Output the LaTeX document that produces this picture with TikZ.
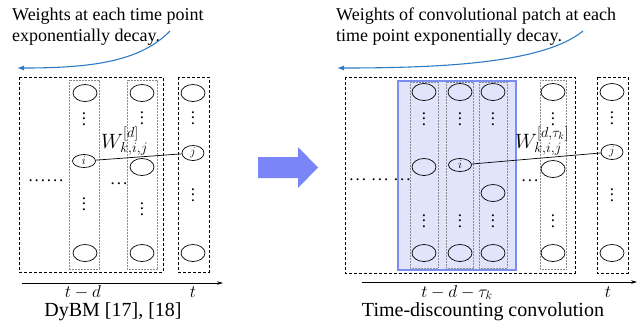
\documentclass[tikz,border=0pt]{standalone}
\usepackage{fontspec}
\setmainfont{Liberation Serif}
\usetikzlibrary{arrows.meta,shapes.geometric}
\definecolor{curveblue}{RGB}{46,125,196}
\definecolor{patchfill}{RGB}{225,228,251}
\definecolor{patchline}{RGB}{124,141,242}
\definecolor{bigarrow}{RGB}{122,133,247}
% vertical ellipsis with a wider dot pitch than \vdots
\newcommand\colvdots{\vbox{\baselineskip=5.5pt\lineskiplimit=0pt\hbox{.}\hbox{.}\hbox{.}}}
\newcommand\dk{\kern1.9pt}
\newcommand\gk{\kern5.7pt}
\begin{document}
\begin{tikzpicture}[x=1pt,y=-1pt,
  unit/.style={draw, ellipse, minimum width=24pt, minimum height=17pt, inner sep=0pt, line width=0.7pt},
  smallunit/.style={unit, minimum width=23pt, minimum height=13pt, font=\fontsize{12}{12}\selectfont},
  midunit/.style={unit, minimum width=22pt, minimum height=15pt, font=\fontsize{12}{12}\selectfont},
  layerbox/.style={draw, line width=0.6pt, dash pattern=on 3pt off 2pt},
  column/.style={draw=black!45, line width=0.5pt, dash pattern=on 0.6pt off 0.9pt},
  vd/.style={inner sep=0pt, font=\fontsize{17}{17}\selectfont},
  hd/.style={inner sep=0pt, anchor=base, font=\fontsize{17}{17}\selectfont},
  caption/.style={inner sep=0pt, anchor=base, font=\fontsize{20}{24}\selectfont},
  note/.style={inner sep=0pt, anchor=north west, align=left, font=\fontsize{18}{21}\selectfont},
  axislabel/.style={inner sep=0pt, anchor=base, font=\fontsize{17}{17}\selectfont},
  weight/.style={inner sep=0pt, anchor=base west, font=\fontsize{20}{20}\selectfont},
  timeaxis/.style={-{Stealth[length=6pt,width=3.5pt]}, line width=0.6pt},
  decay/.style={curveblue, line width=1.1pt, -{Latex[length=7pt,width=5pt]}}
]
\useasboundingbox (0,0) rectangle (644,333);

%% ---------------- DyBM ----------------
\node[note] (noteL) at (12,8) {Weights at each time point\\exponentially decay.};
\coordinate (decayLs) at (170,31);
\coordinate (decayLe) at (17,68);
\draw[decay] (decayLs) .. controls (140,62) and (90,68) .. (decayLe);

\draw[layerbox] (19,77) rectangle (163,272);
\draw[layerbox] (178,77) rectangle (209,272);
\draw[column] (69,80) rectangle (99,269);
\draw[column] (127,80) rectangle (157,269);

\node[unit] (l1a) at (85,93) {};
\node[vd] (l1d1) at (84,119) {\colvdots};
\node[smallunit] (iL) at (84,161) {$i$};
\node[vd] (l1d2) at (84,204) {\colvdots};
\node[unit] (l1b) at (85,253) {};

\node[unit] (l2a) at (142,93) {};
\node[vd] (l2d1) at (142,118) {\colvdots};
\node[unit] (l2m) at (142,167) {};
\node[vd] (l2d2) at (142,209) {\colvdots};
\node[unit] (l2b) at (142,253) {};

\node[unit] (lta) at (193,93) {};
\node[vd] (ltd1) at (193,118) {\colvdots};
\node[midunit] (jL) at (193,153) {$j$};
\node[vd] (ltd2) at (193,195) {\colvdots};
\node[unit] (ltb) at (193,253) {};

\node[hd] (lh1) at (46,181) {.\dk.\dk.\dk.\dk.\dk.};
\node[hd] (lh2) at (119,184) {.\dk.\dk.};

\draw[line width=0.7pt] (iL) -- (jL);
\node[weight] (wL) at (101,148) {$W^{[d]}_{k,i,j}$};

\coordinate (axLs) at (22,283);
\coordinate (axLe) at (223,283);
\draw[timeaxis] (axLs) -- (axLe);
\node[axislabel] (tdL) at (83,297) {$t-d$};
\node[axislabel] (tL) at (193,297) {$t$};
\node[caption] (capL) at (113,316) {DyBM [17], [18]};

%% ---------------- arrow between ----------------
\fill[bigarrow] (258,157) -- (298,157) -- (298,147) -- (318,167.5) -- (298,188) -- (298,178) -- (258,178) -- cycle;

%% ---------------- Time-discounting convolution ----------------
\node[note] (noteR) at (336,8) {Weights of convolutional patch at each\\time point exponentially decay.};
\coordinate (decayRs) at (583,31);
\coordinate (decayRe) at (337,68);
\draw[decay] (decayRs) .. controls (545,62) and (450,68) .. (decayRe);

\draw[layerbox] (345,77) rectangle (575,273);
\draw[layerbox] (597,77) rectangle (628,273);
\draw[fill=patchfill, draw=patchline, line width=1.4pt] (398,81) rectangle (516,270);
\draw[column] (410,82) rectangle (438,268);
\draw[column] (446,82) rectangle (473,268);
\draw[column] (479,82) rectangle (507,268);
\draw[column] (540,80) rectangle (566,269);

\node[unit] (rAa) at (424,92) {};
\node[vd] (rAd1) at (424,119) {\colvdots};
\node[unit] (rAm) at (424,167) {};
\node[vd] (rAd2) at (424,221) {\colvdots};
\node[unit] (rAb) at (424,253) {};

\node[unit] (rBa) at (460,92) {};
\node[vd] (rBd1) at (460,119) {\colvdots};
\node[smallunit] (iR) at (460,165) {$i$};
\node[vd] (rBd2) at (460,221) {\colvdots};
\node[unit] (rBb) at (460,253) {};

\node[unit] (rCa) at (493,92) {};
\node[vd] (rCd1) at (493,119) {\colvdots};
\node[unit] (rCm) at (493,193) {};
\node[vd] (rCd2) at (493,221) {\colvdots};
\node[unit] (rCb) at (493,253) {};

\node[unit] (rDa) at (553,92) {};
\node[vd] (rDd1) at (553,119) {\colvdots};
\node[unit] (rDm) at (553,169) {};
\node[vd] (rDd2) at (553,221) {\colvdots};
\node[unit] (rDb) at (553,253) {};

\node[unit] (rta) at (612,92) {};
\node[vd] (rtd1) at (612,118) {\colvdots};
\node[midunit] (jR) at (612,152) {$j$};
\node[vd] (rtd2) at (612,195) {\colvdots};
\node[unit] (rtb) at (612,253) {};

\node[hd] (rh1) at (380,180) {.\dk.\dk.\gk.\dk.\dk.\gk.\dk.\dk.};
\node[hd] (rh2) at (530,181) {.\dk.\dk.};

\draw[line width=0.7pt] (iR) -- (jR);
\node[weight] (wR) at (515,148) {$W^{[d,\tau_k]}_{k,i,j}$};

\coordinate (axRs) at (362,282);
\coordinate (axRe) at (637,282);
\draw[timeaxis] (axRs) -- (axRe);
\node[axislabel] (tdR) at (457,297) {$t-d-\tau_k$};
\node[axislabel] (tR) at (608,297) {$t$};
\node[caption] (capR) at (483,316) {Time-discounting convolution};
\end{tikzpicture}
\end{document}
